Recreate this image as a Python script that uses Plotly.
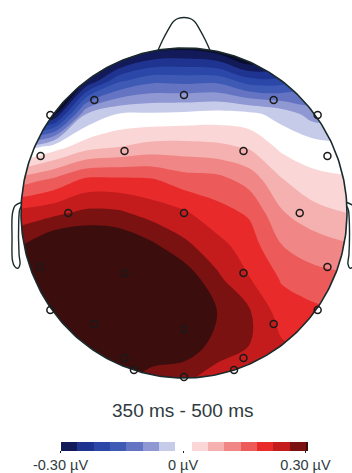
import numpy as np
import plotly.graph_objects as go

# ---- data -------------------------------------------------------------
# scalp potential (µV) read on a regular grid over the head (head radius = 1)
grid_x = [-1.0, -0.8, -0.6, -0.4, -0.2, 0.0, 0.2, 0.4, 0.6, 0.8, 1.0]
grid_y_top_down = [1.0, 0.8, 0.6, 0.4, 0.2, 0.0, -0.2, -0.4, -0.6, -0.8, -1.0]
row_y100 = [-0.60, -0.60, -0.45, -0.38, -0.32, -0.31, -0.33, -0.40, -0.35, -0.20, -0.10]
row_y080 = [-0.50, -0.45, -0.30, -0.187, -0.15, -0.153, -0.15, -0.20, -0.20, -0.15, -0.10]
row_y060 = [-0.35, -0.31, -0.06, -0.018, -0.015, -0.011, -0.005, -0.01, -0.035, -0.08, -0.07]
row_y040 = [-0.05, 0.00, 0.045, 0.06, 0.075, 0.076, 0.07, 0.055, 0.01, 0.00, -0.01]
row_y020 = [0.12, 0.149, 0.19, 0.19, 0.185, 0.16, 0.155, 0.125, 0.063, 0.03, 0.025]
row_y000 = [0.235, 0.25, 0.27, 0.267, 0.244, 0.226, 0.195, 0.175, 0.104, 0.075, 0.06]
row_m020 = [0.30, 0.345, 0.35, 0.34, 0.31, 0.271, 0.235, 0.20, 0.141, 0.12, 0.105]
row_m040 = [0.35, 0.39, 0.38, 0.37, 0.35, 0.33, 0.27, 0.222, 0.176, 0.155, 0.15]
row_m060 = [0.36, 0.39, 0.38, 0.37, 0.36, 0.35, 0.302, 0.265, 0.20, 0.19, 0.18]
row_m080 = [0.36, 0.37, 0.37, 0.35, 0.34, 0.33, 0.285, 0.26, 0.225, 0.21, 0.20]
row_m100 = [0.34, 0.35, 0.34, 0.32, 0.28, 0.27, 0.24, 0.20, 0.20, 0.20, 0.20]

# electrode positions (head radius = 1)
elec_x = [-0.55, 0.0, 0.55, -0.82, 0.82,
          -0.88, -0.365, 0.365, 0.88,
          -0.71, 0.0, 0.71,
          -0.88, -0.365, 0.365, 0.88,
          -0.82, -0.55, 0.0, 0.55, 0.82,
          -0.365, -0.307, 0.0, 0.307, 0.365]
elec_y = [0.685, 0.715, 0.685, 0.594, 0.594,
          0.345, 0.376, 0.376, 0.345,
          0.0, 0.0, 0.0,
          -0.327, -0.364, -0.364, -0.327,
          -0.588, -0.673, -0.703, -0.673, -0.588,
          -0.879, -0.952, -0.994, -0.952, -0.879]

level_start, level_end, level_step = -0.30, 0.30, 0.04
color_min, color_max = -0.30, 0.30
band_colors = ["#0a0c2e", "#121a5a", "#1f3390", "#2b47a8", "#3f5ab5", "#6474c2",
               "#8f98d2", "#c6cbea", "#ffffff", "#fad6d6", "#f5b0b0", "#f08686",
               "#ec5a5a", "#e82a2a", "#c41c1c", "#7a1212", "#3b0d0d"]
tick_vals = [-0.30, 0.0, 0.30]
tick_text = ["-0.30 µV", "0 µV", "0.30 µV"]
title_text = "350 ms - 500 ms"

# head outline decorations (head radius = 1)
nose_x = [-0.16, -0.13, -0.095, -0.065, -0.035, 0.035, 0.065, 0.095, 0.13, 0.16]
nose_y = [0.985, 1.05, 1.115, 1.16, 1.18, 1.18, 1.16, 1.115, 1.05, 0.985]
ear_x = [-0.995, -1.035, -1.052, -1.055, -1.052, -1.038, -1.02, -1.006, -1.012, -1.014, -1.008, -0.998]
ear_y = [0.065, 0.045, 0.0, -0.15, -0.29, -0.325, -0.335, -0.31, -0.25, -0.05, 0.02, 0.04]

# ---- figure -----------------------------------------------------------
W, H = 352, 473
cx_px, cy_px, rx_px, ry_px = 184.0, 213.0, 163.0, 165.0
x_range = [-cx_px / rx_px, (W - cx_px) / rx_px]
y_range = [(cy_px - H) / ry_px, cy_px / ry_px]

grid_y = grid_y_top_down[::-1]
z_rows = [row_y100, row_y080, row_y060, row_y040, row_y020, row_y000,
          row_m020, row_m040, row_m060, row_m080, row_m100][::-1]

# stepped colorscale: one colour per filled band (band midpoints, clamped)
n = len(band_colors)
mids = [level_start - level_step / 2 + level_step * k for k in range(n)]
norm = [min(1.0, max(0.0, (m - color_min) / (color_max - color_min))) for m in mids]
bounds = [0.0] + [(norm[k] + norm[k + 1]) / 2 for k in range(n - 1)] + [1.0]
colorscale = []
for k, c in enumerate(band_colors):
    colorscale.append([bounds[k], c])
    colorscale.append([bounds[k + 1], c])

font_family = "Liberation Sans, Arial, sans-serif"
fig = go.Figure()
fig.add_trace(go.Contour(
    x=grid_x, y=grid_y, z=z_rows,
    zmin=color_min, zmax=color_max, colorscale=colorscale,
    contours=dict(start=level_start, end=level_end + 1e-6, size=level_step,
                  coloring="fill", showlines=False),
    line=dict(width=0, smoothing=1.0),
    colorbar=dict(orientation="h", x=(cx_px - 1) / W, xanchor="center",
                  y=1 - 442 / H, yanchor="top", len=245, lenmode="pixels",
                  thickness=9, outlinewidth=0, xpad=0, ypad=0,
                  tickvals=tick_vals, ticktext=tick_text,
                  ticks="outside", ticklen=2, tickcolor="#222",
                  tickfont=dict(family=font_family, size=14.5, color="#2e3b40")),
    hoverinfo="skip",
))

# white mask outside the head circle
R = 1.35
for a0 in [0.0, 0.5, 1.0, 1.5]:
    t = np.linspace(a0 * np.pi, (a0 + 0.5) * np.pi, 60)
    ax, ay = np.cos(t), np.sin(t)
    c0 = np.array([np.cos(a0 * np.pi), np.sin(a0 * np.pi)])
    c1 = np.array([np.cos((a0 + 0.5) * np.pi), np.sin((a0 + 0.5) * np.pi)])
    corner = np.sign(c0 + c1) * R
    px = list(ax) + [c1[0] * R, corner[0], c0[0] * R]
    py = list(ay) + [c1[1] * R, corner[1], c0[1] * R]
    fig.add_trace(go.Scatter(x=px, y=py, fill="toself", fillcolor="white",
                             mode="none", hoverinfo="skip", showlegend=False))

line_col = "#1b2a2c"
t = np.linspace(0, 2 * np.pi, 361)
fig.add_trace(go.Scatter(x=np.cos(t), y=np.sin(t), mode="lines",
                         line=dict(color=line_col, width=1.6), hoverinfo="skip", showlegend=False))
fig.add_trace(go.Scatter(x=nose_x, y=nose_y, mode="lines", line=dict(color=line_col, width=1.4, shape="spline"),
                         hoverinfo="skip", showlegend=False))
fig.add_trace(go.Scatter(x=ear_x, y=ear_y, mode="lines", line=dict(color=line_col, width=1.4, shape="spline"),
                         hoverinfo="skip", showlegend=False))
fig.add_trace(go.Scatter(x=[-v for v in ear_x], y=ear_y, mode="lines",
                         line=dict(color=line_col, width=1.4, shape="spline"),
                         hoverinfo="skip", showlegend=False))
fig.add_trace(go.Scatter(x=elec_x, y=elec_y, mode="markers",
                         marker=dict(symbol="circle-open", size=7, color="#1a1a1a", line=dict(width=1.5)),
                         hoverinfo="skip", showlegend=False))

fig.add_annotation(x=(cx_px - 1) / W, y=1 - 410 / H, xref="paper", yref="paper",
                   text=title_text, showarrow=False, xanchor="center", yanchor="middle",
                   font=dict(family=font_family, size=19, color="#2e3b40"))

fig.update_layout(
    width=W, height=H, margin=dict(l=0, r=0, t=0, b=0, autoexpand=False),
    paper_bgcolor="white", plot_bgcolor="white", showlegend=False,
    xaxis=dict(range=x_range, visible=False, fixedrange=True),
    yaxis=dict(range=y_range, visible=False, fixedrange=True),
)
fig.write_html("out.html")
